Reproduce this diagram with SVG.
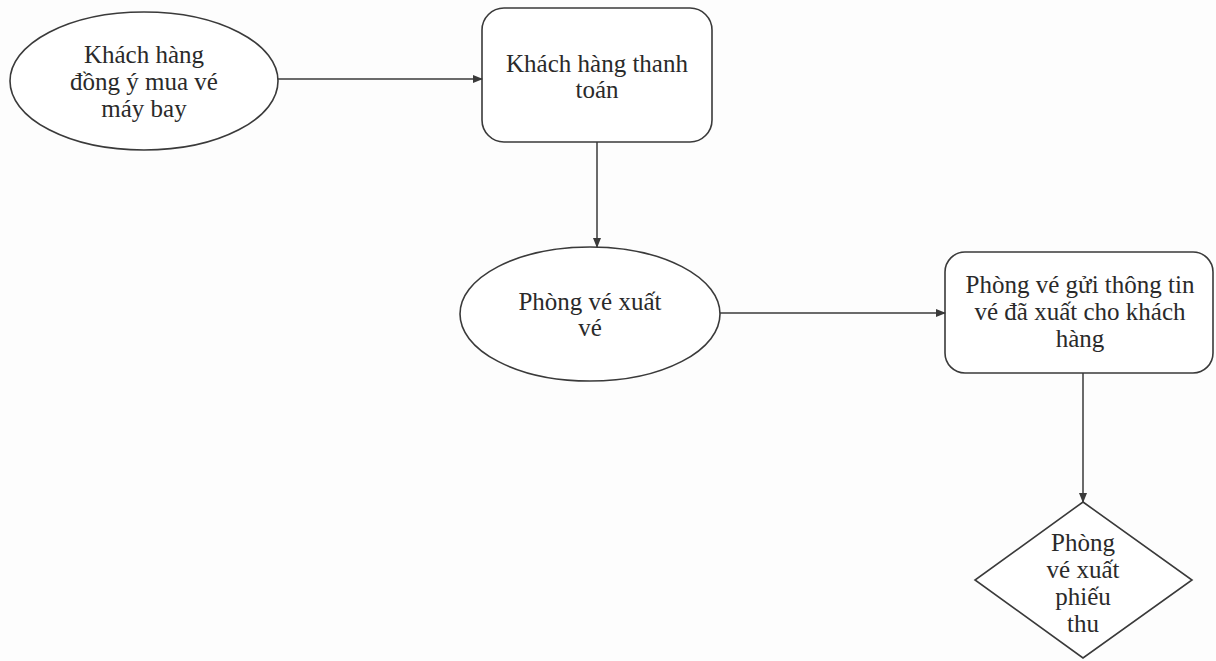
<svg xmlns="http://www.w3.org/2000/svg" width="1216" height="661" viewBox="0 0 1216 661">
<style>
.s{fill:#fff;stroke:#3a3a3a;stroke-width:1.6}
.t{font-family:"Liberation Serif","Times New Roman",serif;font-size:25px;fill:#2a2a2a;text-anchor:middle}
.c{stroke:#3a3a3a;stroke-width:1.5;fill:none}
</style>
<defs>
<marker id="a" markerWidth="10" markerHeight="8" refX="9" refY="4" orient="auto" markerUnits="userSpaceOnUse">
<path d="M0,0 L10,4 L0,8 Z" fill="#3a3a3a"/>
</marker>
</defs>
<rect width="1216" height="661" fill="#fdfdfd"/>
<g id="n1">
<ellipse class="s" cx="144" cy="81" rx="134" ry="69"/>
<text class="t" x="144" y="63">Khách hàng</text>
<text class="t" x="144" y="90">đồng ý mua vé</text>
<text class="t" x="144" y="117">máy bay</text>
</g>
<g id="n2">
<rect class="s" x="482" y="8" width="230" height="134" rx="22"/>
<text class="t" x="597" y="72">Khách hàng thanh</text>
<text class="t" x="597" y="98">toán</text>
</g>
<g id="n3">
<ellipse class="s" cx="590" cy="314" rx="130" ry="67"/>
<text class="t" x="590" y="310">Phòng vé xuất</text>
<text class="t" x="590" y="336">vé</text>
</g>
<g id="n4">
<rect class="s" x="945" y="252" width="268" height="121" rx="20"/>
<text class="t" x="1080" y="293">Phòng vé gửi thông tin</text>
<text class="t" x="1080" y="320">vé đã xuất cho khách</text>
<text class="t" x="1080" y="347">hàng</text>
</g>
<g id="n5">
<polygon class="s" points="1083,502 1192,580 1083,658 975,580"/>
<text class="t" x="1083" y="551">Phòng</text>
<text class="t" x="1083" y="578">vé xuất</text>
<text class="t" x="1083" y="605">phiếu</text>
<text class="t" x="1083" y="632">thu</text>
</g>
<g id="connectors">
<line class="c" x1="278" y1="79" x2="482" y2="79" marker-end="url(#a)"/>
<line class="c" x1="597" y1="142" x2="597" y2="247" marker-end="url(#a)"/>
<line class="c" x1="720" y1="313" x2="945" y2="313" marker-end="url(#a)"/>
<line class="c" x1="1083" y1="373" x2="1083" y2="502" marker-end="url(#a)"/>
</g>
</svg>
